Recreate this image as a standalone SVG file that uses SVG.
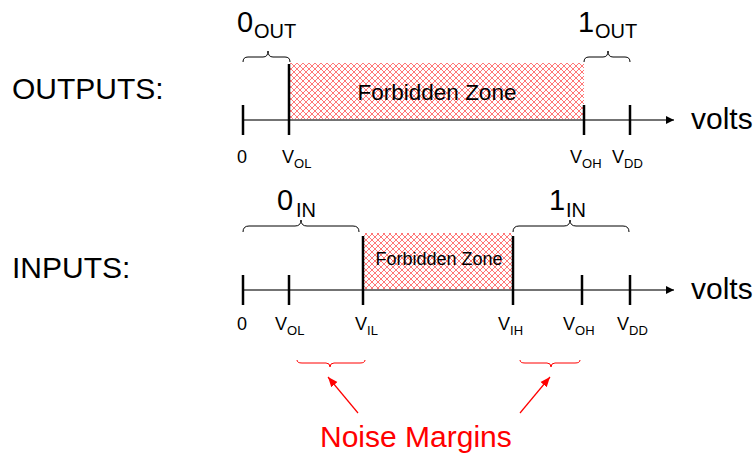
<svg xmlns="http://www.w3.org/2000/svg" width="756" height="455" viewBox="0 0 756 455">
<style>
text{font-family:"Liberation Sans",Arial,sans-serif;fill:#000}
.big{font-size:30px}
.dig{font-size:29px}
.sub{font-size:20px}
.tl{font-size:18px}
.ts{font-size:13px}
.axis{stroke:#444;stroke-width:1.5;fill:none}
.tick{stroke:#000;stroke-width:2.5}
.brace{stroke:#000;stroke-width:1;fill:none}
.rbrace{stroke:#f00;stroke-width:1;fill:none}
.hatch{fill:url(#xh)}
.red{fill:#f00}
</style>
<defs>
<pattern id="xh" width="6" height="6" patternUnits="userSpaceOnUse">
<rect width="6" height="6" fill="#fff"/>
<path d="M0,0 L6,6 M6,0 L0,6" stroke="#f77" stroke-width="1"/>
</pattern>
<marker id="ah" viewBox="0 0 10 10" refX="10" refY="5" markerWidth="8" markerHeight="8" markerUnits="userSpaceOnUse" orient="auto">
<path d="M0,0 L10,5 L0,10 z" fill="#000"/>
</marker>
<marker id="rah" viewBox="0 0 10 10" refX="10" refY="5" markerWidth="10" markerHeight="10" markerUnits="userSpaceOnUse" orient="auto">
<path d="M0,1 L10,5 L0,9 z" fill="#f00"/>
</marker>
</defs>

<g id="outputs-label"><text class="big" x="12" y="99">OUTPUTS:</text></g>
<g id="inputs-label"><text class="big" x="12" y="278">INPUTS:</text></g>

<g id="out-forbidden">
<rect class="hatch" x="290" y="63" width="294" height="56"/>
<text x="437" y="100" font-size="22.5" text-anchor="middle">Forbidden Zone</text>
</g>
<g id="in-forbidden">
<rect class="hatch" x="364" y="233" width="149" height="56"/>
<text x="439" y="265" font-size="18" text-anchor="middle">Forbidden Zone</text>
</g>

<g id="connectors">
<line class="axis" x1="243" y1="120" x2="674" y2="120" marker-end="url(#ah)"/>
<line class="axis" x1="243" y1="290" x2="674" y2="290" marker-end="url(#ah)"/>
<line class="tick" x1="243" y1="105" x2="243" y2="135"/>
<line class="tick" x1="289" y1="64" x2="289" y2="135"/>
<line class="tick" x1="584" y1="105" x2="584" y2="135"/>
<line class="tick" x1="630" y1="105" x2="630" y2="135"/>
<line class="tick" x1="243" y1="275" x2="243" y2="305"/>
<line class="tick" x1="289" y1="275" x2="289" y2="305"/>
<line class="tick" x1="363" y1="236" x2="363" y2="305"/>
<line class="tick" x1="513" y1="236" x2="513" y2="305"/>
<line class="tick" x1="582" y1="275" x2="582" y2="305"/>
<line class="tick" x1="630" y1="275" x2="630" y2="305"/>
<path class="brace" d="M243,62 Q243,57 248,57 L263,57 Q268,57 268,51 Q268,57 273,57 L285,57 Q290,57 290,62"/>
<path class="brace" d="M584,62 Q584,57 589,57 L603,57 Q608,57 608,51 Q608,57 613,57 L625,57 Q630,57 630,62"/>
<path class="brace" d="M243,232 Q243,226 249,226 L295,226 Q301,226 301,220 Q301,226 307,226 L353,226 Q359,226 359,232"/>
<path class="brace" d="M513,232 Q513,226 519,226 L564,226 Q570,226 570,220 Q570,226 576,226 L623,226 Q629,226 629,232"/>
<path class="rbrace" d="M297,360 Q297,363 302,363 L326,363 Q330,363 330,367 Q330,363 334,363 L360,363 Q365,363 365,360"/>
<path class="rbrace" d="M520,360 Q520,363 525,363 L547,363 Q551,363 551,367 Q551,363 555,363 L575,363 Q580,363 580,360"/>
<line x1="358" y1="413" x2="328" y2="377" stroke="#f00" stroke-width="1.2" marker-end="url(#rah)"/>
<line x1="520" y1="413" x2="550" y2="377" stroke="#f00" stroke-width="1.2" marker-end="url(#rah)"/>
</g>

<g id="out-labels">
<text class="dig" x="237" y="32">0<tspan class="sub" x="254" y="38">OUT</tspan></text>
<text class="dig" x="578" y="32">1<tspan class="sub" x="595" y="38">OUT</tspan></text>
<text class="big" x="691" y="129">volts</text>
<text class="tl" x="237" y="163">0</text>
<text class="tl" x="282" y="163">V<tspan class="ts" y="168">OL</tspan></text>
<text class="tl" x="570" y="163">V<tspan class="ts" y="168">OH</tspan></text>
<text class="tl" x="612" y="163">V<tspan class="ts" y="168">DD</tspan></text>
</g>

<g id="in-labels">
<text class="dig" x="277" y="210">0<tspan class="sub" x="296" y="217">IN</tspan></text>
<text class="dig" x="549" y="210">1<tspan class="sub" x="566" y="217">IN</tspan></text>
<text class="big" x="691" y="299">volts</text>
<text class="tl" x="237" y="330">0</text>
<text class="tl" x="275" y="330">V<tspan class="ts" y="335">OL</tspan></text>
<text class="tl" x="355" y="330">V<tspan class="ts" y="335">IL</tspan></text>
<text class="tl" x="498" y="330">V<tspan class="ts" y="335">IH</tspan></text>
<text class="tl" x="563" y="330">V<tspan class="ts" y="335">OH</tspan></text>
<text class="tl" x="617" y="330">V<tspan class="ts" y="335">DD</tspan></text>
</g>

<g id="noise-margins"><text class="big red" x="320" y="447">Noise Margins</text></g>
</svg>
